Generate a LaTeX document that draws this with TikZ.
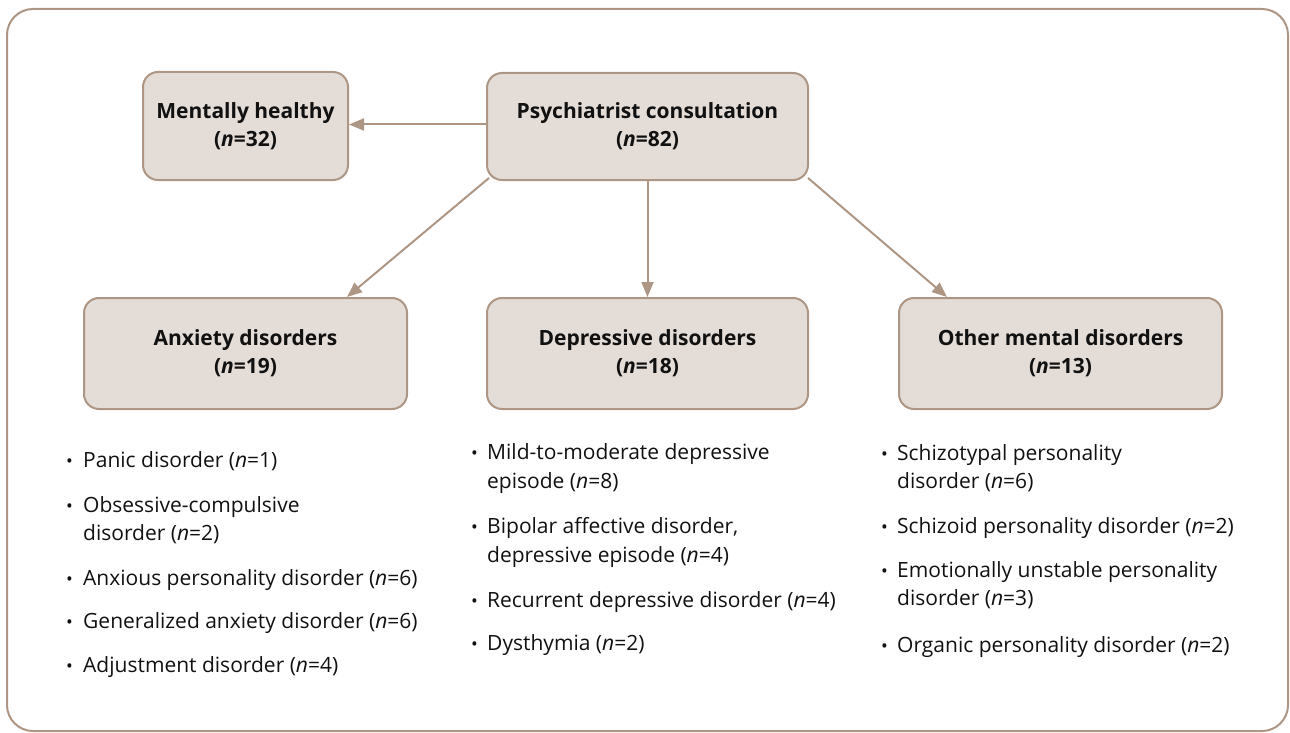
\documentclass[tikz,border=0pt]{standalone}
\usepackage{fontspec}
\setmainfont{Open Sans}
\usetikzlibrary{arrows.meta,calc}
\definecolor{boxfill}{HTML}{E3DCD7}
\definecolor{boxline}{HTML}{AE9684}
\definecolor{txt}{HTML}{111111}
\tikzset{
  catbox/.style={draw=boxline, fill=boxfill, line width=2pt, rounded corners=15pt,
    minimum width=#1, minimum height=108pt, inner sep=0pt, align=center,
    font=\fontsize{21}{28}\selectfont\bfseries, text=txt},
  conn/.style={draw=boxline, line width=2pt, -{Triangle[length=15pt,width=12pt]}},
  li/.style={anchor=base west, inner sep=0pt, font=\fontsize{21}{28}\selectfont, text=txt},
  bul/.style={anchor=base west, inner sep=0pt, font=\fontsize{18}{28}\selectfont, text=txt},
}
\begin{document}
\begin{tikzpicture}[x=1pt,y=-1pt]
\useasboundingbox (0,0) rectangle (1290,733);
\draw[boxline, line width=2pt, rounded corners=26pt] (7,9) rectangle (1288,731);

\node[catbox=205pt, minimum height=108pt] (mh) at (245.5,126) {Mentally healthy\\(\textit{n}=32)};
\node[catbox=321pt, minimum height=107pt] (psy) at (647.5,126.5) {Psychiatrist consultation\\(\textit{n}=82)};
\node[catbox=323pt, minimum height=111pt] (anx) at (245.5,353.5) {Anxiety disorders\\(\textit{n}=19)};
\node[catbox=321pt, minimum height=111pt] (dep) at (647.5,353.5) {Depressive disorders\\(\textit{n}=18)};
\node[catbox=323pt, minimum height=111pt] (oth) at (1060.5,353.5) {Other mental disorders\\(\textit{n}=13)};

\coordinate (psyW) at ($(psy.west)+(0,-2)$);
\coordinate (anxT) at ($(anx.north west)+(264,0)$);
\coordinate (othT) at ($(oth.north west)+(49,0)$);
\coordinate (psySW) at ($(psy.south west)+(3,-3)$);
\coordinate (psySE) at ($(psy.south east)+(-1,-3)$);

\draw[conn] (psyW) -- (psyW -| mh.east);
\draw[conn] (psySW) -- (anxT);
\draw[conn] (psy.south) -- (dep.north);
\draw[conn] (psySE) -- (othT);

% Anxiety list
\node[bul] (a1b) at (66,467) {•};
\node[li] (a1) at (83,467) {Panic disorder (\textit{n}=1)};
\node[bul] (a2b) at (66,512) {•};
\node[li] (a2) at (83,512) {Obsessive-compulsive};
\node[li] (a2c) at (83,540) {disorder (\textit{n}=2)};
\node[bul] (a3b) at (66,585) {•};
\node[li] (a3) at (83,585) {Anxious personality disorder (\textit{n}=6)};
\node[bul] (a4b) at (66,628) {•};
\node[li] (a4) at (83,628) {Generalized anxiety disorder (\textit{n}=6)};
\node[bul] (a5b) at (66,672) {•};
\node[li] (a5) at (83,672) {Adjustment disorder (\textit{n}=4)};

% Depressive list
\node[bul] (d1b) at (471,459) {•};
\node[li] (d1) at (487,459) {Mild-to-moderate depressive};
\node[li] (d1c) at (487,488) {episode (\textit{n}=8)};
\node[bul] (d2b) at (471,533) {•};
\node[li] (d2) at (487,533) {Bipolar affective disorder,};
\node[li] (d2c) at (487,562) {depressive episode (\textit{n}=4)};
\node[bul] (d3b) at (471,607) {•};
\node[li] (d3) at (487,607) {Recurrent depressive disorder (\textit{n}=4)};
\node[bul] (d4b) at (471,650) {•};
\node[li] (d4) at (487,650) {Dysthymia (\textit{n}=2)};

% Other list
\node[bul] (o1b) at (881,460) {•};
\node[li] (o1) at (897,460) {Schizotypal personality};
\node[li] (o1c) at (897,488) {disorder (\textit{n}=6)};
\node[bul] (o2b) at (881,533) {•};
\node[li] (o2) at (897,533) {Schizoid personality disorder (\textit{n}=2)};
\node[bul] (o3b) at (881,577) {•};
\node[li] (o3) at (897,577) {Emotionally unstable personality};
\node[li] (o3c) at (897,605) {disorder (\textit{n}=3)};
\node[bul] (o4b) at (881,652) {•};
\node[li] (o4) at (897,652) {Organic personality disorder (\textit{n}=2)};
\end{tikzpicture}
\end{document}
